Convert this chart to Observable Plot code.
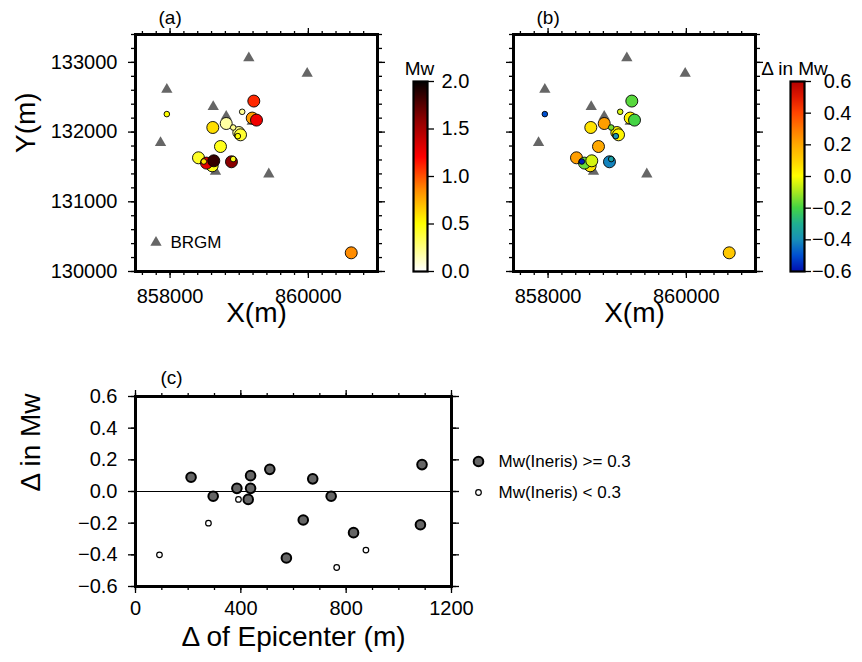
<!DOCTYPE html>
<html><head><meta charset="utf-8">
<script src="https://cdn.jsdelivr.net/npm/d3@7"></script>
<script src="https://cdn.jsdelivr.net/npm/@observablehq/plot@0.6"></script>
<style>
body{margin:0;background:#fff;}
#root{position:relative;width:862px;height:662px;overflow:hidden;background:#fff;}
#root > svg{position:absolute;left:0;top:0;}
</style></head><body><div id="root"></div>
<script>
// ---- Data ----
// BRGM stations
const stationX = [859139, 859983, 857953, 858624, 858812, 859188, 857862, 859428, 858657];
const stationY = [133062, 132841, 132611, 132363, 132224, 132152, 131846, 131397, 131435];
// Events (draw order: large first)
const eventX   = [860620, 859211, 859188, 859250, 858812, 858618, 858994, 859019, 858729, 858411, 858609, 858527, 858632, 858888, 857953, 859043, 858913, 858980, 858488, 858913];
const eventY   = [130268, 132445, 132201, 132172, 132123, 132066, 131994, 131961, 131793, 131631, 131516, 131555, 131588, 131574, 132258, 132291, 132066, 131942, 131578, 131613];
const eventMw  = [0.85, 1.1, 0.8, 1.25, 0.18, 0.6, 0.22, 0.4, 0.45, 0.42, 0.45, 1.3, 1.85, 1.6, 0.5, 0.22, 0.22, 0.5, 0.6, 0.45];
const eventDMw = [0.12, -0.18, 0.03, -0.2, 0.22, 0.06, 0.03, 0.02, 0.2, 0.22, 0.06, -0.16, -0.05, -0.42, -0.5, -0.05, -0.15, -0.38, -0.58, -0.35];
const eventBig = [1,1,1,1,1,1,1,1,1,1,1,1,1,1,0,0,0,0,0,0];
// Panel (c): epicenter distance vs delta Mw
const epiDist = [211, 295, 385, 437, 437, 428, 510, 673, 743, 637, 573, 828, 1088, 1082, 91, 277, 391, 764, 875];
const epiDMw  = [0.09, -0.03, 0.02, 0.10, 0.02, -0.05, 0.14, 0.08, -0.03, -0.18, -0.42, -0.26, 0.17, -0.21, -0.40, -0.20, -0.05, -0.48, -0.37];
const epiBig  = [1,1,1,1,1,1,1,1,1,1,1,1,1,1,0,0,0,0,0];
// Tick labels
const mapXMajor = [858000, 860000];
const mapYMajor = [130000, 131000, 132000, 133000];
const mwTicks = [0, 0.5, 1.0, 1.5, 2.0];
const dTicks = [-0.6, -0.4, -0.2, 0, 0.2, 0.4, 0.6];
const cXMajor = [0, 400, 800, 1200];
const cYMajor = [-0.6, -0.4, -0.2, 0, 0.2, 0.4, 0.6];

// ---- Build ----
const stations = stationX.map((x, i) => ({x, y: stationY[i]}));
const events = eventX.map((x, i) => ({x, y: eventY[i], mw: eventMw[i], d: eventDMw[i], big: eventBig[i]}));
const epi = epiDist.map((x, i) => ({x, y: epiDMw[i], big: epiBig[i]}));

const W = 862, H = 662;
const FONT = "'Liberation Sans', Arial, Helvetica, sans-serif";
const style = {background: "transparent", overflow: "visible", fontFamily: FONT};
const fmt1 = d3.format(".1f");
const fmtD = d3.format("d");
const mwColor = {type: "linear", domain: [0, 0.5, 0.85, 1.2, 1.6, 2], range: ["#ffffff", "#ffff00", "#ff8c00", "#ff0000", "#8b0000", "#000000"], interpolate: "rgb"};
const dColor = {type: "linear", domain: [-0.6, -0.5, -0.4, -0.3, -0.2, -0.1, 0, 0.1, 0.2, 0.3, 0.4, 0.5, 0.6],
  range: ["#0010b0", "#0050d0", "#1890b8", "#20b090", "#44d444", "#a8e820", "#ffff00", "#ffd000", "#ffa800", "#ff7800", "#ff4400", "#e01800", "#b00000"], interpolate: "rgb"};

function box(l, t, r, b) {
  return {width: W, height: H, marginLeft: l, marginTop: t, marginRight: W - r, marginBottom: H - b};
}
function range(a, b, s) { const out = []; for (let v = a; v <= b + 1e-9; v += s) out.push(+v.toFixed(6)); return out; }

function axes(xMinor, xMajor, yMinor, yMajor, o) {
  const tw = 1.3;
  return [
    Plot.axisX({anchor: "top", ticks: xMinor, tickSize: 4, strokeWidth: tw, fill: "none", label: null}),
    Plot.axisX({anchor: "bottom", ticks: xMinor, tickSize: 4, strokeWidth: tw, fill: "none", label: null}),
    Plot.axisY({anchor: "left", ticks: yMinor, tickSize: 4, strokeWidth: tw, fill: "none", label: null}),
    Plot.axisY({anchor: "right", ticks: yMinor, tickSize: 4, strokeWidth: tw, fill: "none", label: null}),
    Plot.axisX({anchor: "top", ticks: xMajor, tickSize: 7, strokeWidth: tw, fill: "none", label: null}),
    Plot.axisY({anchor: "right", ticks: yMajor, tickSize: 7, strokeWidth: tw, fill: "none", label: null}),
    Plot.axisX({anchor: "bottom", ticks: xMajor, tickSize: 7, tickPadding: o.xPad, strokeWidth: tw, fill: "black", fontSize: 20, tickFormat: o.xFmt, label: null}),
    Plot.axisY({anchor: "left", ticks: yMajor, tickSize: 7, tickPadding: 11, strokeWidth: tw, fill: o.yLabels ? "black" : "none", fontSize: 20, tickFormat: o.yFmt, label: null})
  ];
}

const root = document.getElementById("root");
const T = {lineAnchor: "middle"};

// Panels (a) and (b)
function mapPanel(l, fillKey, colorOpts, letter, showY) {
  const marks = [
    Plot.dot(stations, {x: "x", y: "y", symbol: "triangle", r: 4.2, fill: "#666666"}),
    Plot.dot(events, {x: "x", y: "y", r: d => d.big ? 6 : 2.8, fill: fillKey, stroke: "black", strokeWidth: 0.9}),
    Plot.frame({stroke: "black", strokeWidth: 3}),
    ...axes(range(857600, 860800, 200), mapXMajor, range(130000, 133400, 200), mapYMajor, {xPad: 10, xFmt: fmtD, yLabels: showY, yFmt: fmtD}),
    Plot.text([letter], {...T, frameAnchor: "top-left", dx: 23, dy: -17, fontSize: 19}),
    Plot.text(["X(m)"], {...T, frameAnchor: "bottom", dy: 42, fontSize: 28})
  ];
  if (showY) {
    marks.push(Plot.text(["Y(m)"], {...T, frameAnchor: "left", dx: -109, rotate: -90, fontSize: 28}));
    marks.push(Plot.dot([0], {frameAnchor: "bottom-left", dx: 20.5, dy: -29, symbol: "triangle", r: 4.2, fill: "#666666"}));
    marks.push(Plot.text(["BRGM"], {...T, frameAnchor: "bottom-left", dx: 35, dy: -29, textAnchor: "start", fontSize: 17}));
  }
  return Plot.plot({
    ...box(l, 34, l + 242, 271), style,
    x: {domain: [857500, 861000], label: null},
    y: {domain: [130000, 133400], label: null},
    r: {type: "identity"},
    color: colorOpts,
    marks
  });
}
root.append(mapPanel(135, "mw", mwColor, "(a)", true));
root.append(mapPanel(513, "d", dColor, "(b)", false));

// Colorbars
function colorbar(l, r, lo, hi, colorOpts, ticks, title, labDx, labAnchor, titleDx) {
  const n = 190;
  const step = (hi - lo) / n;
  const steps = d3.range(n).map(i => lo + i * step);
  return Plot.plot({
    ...box(l, 81, r, 271), style,
    y: {domain: [lo, hi], label: null},
    color: colorOpts,
    marks: [
      Plot.rect(steps, {y1: d => d, y2: d => Math.min(hi, d + step), fill: d => d + step / 2, shapeRendering: "crispEdges"}),
      Plot.frame({stroke: "black", strokeWidth: 2.2}),
      Plot.axisY({anchor: "right", ticks, tickSize: 6, strokeWidth: 1.3, fill: "none", label: null}),
      Plot.text(ticks, {...T, y: d => d, frameAnchor: "right", dx: labDx, textAnchor: labAnchor, text: d => fmt1(d), fontSize: 20}),
      Plot.text([title], {...T, frameAnchor: "top", dx: titleDx, dy: -13, fontSize: 19})
    ]
  });
}
root.append(colorbar(413, 427, 0, 2, mwColor, mwTicks, "Mw", 14, "start", -1));
root.append(colorbar(790, 804, -0.6, 0.6, dColor, dTicks, "\u0394 in Mw", 47, "end", -3));

// Panel (c)
root.append(Plot.plot({
  ...box(135, 396, 451, 586), style,
  x: {domain: [0, 1200], label: null},
  y: {domain: [-0.6, 0.6], label: null},
  marks: [
    Plot.ruleY([0], {strokeWidth: 1.2}),
    Plot.dot(epi.filter(d => d.big), {x: "x", y: "y", r: 4.8, fill: "#666666", stroke: "black", strokeWidth: 2}),
    Plot.dot(epi.filter(d => !d.big), {x: "x", y: "y", r: 2.8, fill: "white", stroke: "black", strokeWidth: 1.2}),
    Plot.frame({stroke: "black", strokeWidth: 3}),
    ...axes(range(0, 1200, 100), cXMajor, cYMajor, cYMajor, {xPad: 7, xFmt: fmtD, yLabels: true, yFmt: fmt1}),
    Plot.text(["(c)"], {...T, frameAnchor: "top-left", dx: 25, dy: -19, fontSize: 19}),
    Plot.text(["\u0394 of Epicenter (m)"], {...T, frameAnchor: "bottom", dy: 51, fontSize: 28}),
    Plot.text(["\u0394 in Mw"], {...T, frameAnchor: "left", dx: -104, rotate: -90, fontSize: 28}),
    Plot.dot([0], {frameAnchor: "right", dx: 27, dy: -30, r: 4.8, fill: "#666666", stroke: "black", strokeWidth: 2}),
    Plot.text(["Mw(Ineris) >= 0.3"], {...T, frameAnchor: "right", dx: 47, dy: -30, textAnchor: "start", fontSize: 17}),
    Plot.dot([0], {frameAnchor: "right", dx: 27, dy: 1, r: 2.8, fill: "white", stroke: "black", strokeWidth: 1.2}),
    Plot.text(["Mw(Ineris) < 0.3"], {...T, frameAnchor: "right", dx: 47, dy: 1, textAnchor: "start", fontSize: 17})
  ]
}));
</script></body></html>
